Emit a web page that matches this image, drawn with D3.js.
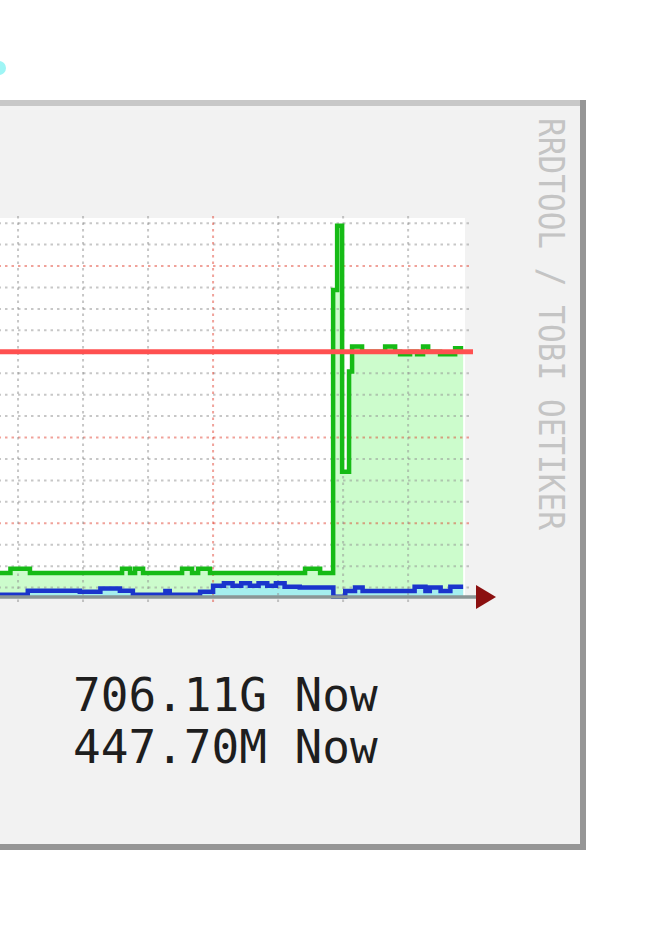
<!DOCTYPE html>
<meta charset="utf-8">
<style>
body { margin: 0; background: #fff; }
svg { display: block; }
text { font-family: "DejaVu Sans Mono", monospace; }
</style>
<svg width="656" height="932"></svg>
<script src="https://d3js.org/d3.v7.min.js"></script>
<script>

// times are hours relative to midnight (the red vertical line), values in G
var greenT = [-30, -18.7, -16.9, -8.4, -7.66, -7.2, -6.46, -2.86, -1.94, -1.38, -0.28, 8.49, 9.88,
              11.08, 11.45, 11.91, 12.55, 12.83, 13.75, 15.88, 16.8, 17.26, 18.18, 18.83, 19.38,
              19.85, 20.95, 22.34];
var greenV = [442, 447, 442, 447, 442, 447, 442, 447, 442, 447, 442, 447, 442,
              772, 847, 560, 677, 706, 700, 706, 700, 697, 700, 697, 706,
              700, 697, 704];

var blueT = [-30, -17.1, -12.3, -10.4, -8.6, -7.4, -4.4, -4.0, -1.2, 0, 1, 1.8, 2.6, 3.4, 4.2,
             5, 5.8, 6.6, 8, 11.1, 12.2, 13.1, 13.8, 18.6, 19.6, 20.0, 21.0, 21.9];
var blueV = [416.6, 421.3, 420, 424, 421.3, 416.6, 421, 416.6, 420, 427, 430, 427, 430, 427, 430,
             427, 430, 426, 425, 414.3, 421, 425, 421, 426, 421, 425, 421, 426];

var tEnd = 23.08;
var hrule = 700;
var legendLines = ["706.11G Now", "447.70M Now"];
var watermark = "RRDTOOL / TOBI OETIKER";

var minorX = 6, majorX = 24, minorY = 25, majorY = 100;

var svg = d3.select("svg");

// outer panel with 3d border
svg.append("circle").attr("cx", -1).attr("cy", 68).attr("r", 7).attr("fill", "#9ff5f5");
svg.append("rect").attr("x", -10).attr("y", 100).attr("width", 596).attr("height", 750).attr("fill", "#f2f2f2");
svg.append("rect").attr("x", -10).attr("y", 100).attr("width", 596).attr("height", 6).attr("fill", "#c8c8c8");
svg.append("rect").attr("x", 580).attr("y", 100).attr("width", 6).attr("height", 750).attr("fill", "#969696");
svg.append("rect").attr("x", -10).attr("y", 844).attr("width", 596).attr("height", 6).attr("fill", "#969696");

var x = d3.scaleLinear().domain([-30, 23.25]).range([-112, 465]),
    y = d3.scaleLinear().domain([414, 856]).range([597, 218]);

var g = svg.append("g");

g.append("rect")
    .attr("x", x.range()[0]).attr("y", y.range()[1])
    .attr("width", x.range()[1] - x.range()[0])
    .attr("height", y.range()[0] - y.range()[1])
    .attr("fill", "#fff");

function series(T, V) {
  var s = T.map(function(t, i) { return {t: t, v: V[i]}; });
  s.push({t: tEnd, v: V[V.length - 1]});
  return s;
}
var green = series(greenT, greenV),
    blue = series(blueT, blueV);

var area = d3.area()
    .curve(d3.curveStepAfter)
    .x(function(d) { return x(d.t); })
    .y0(y(y.domain()[0]))
    .y1(function(d) { return y(d.v); });

var line = d3.line()
    .curve(d3.curveStepAfter)
    .x(function(d) { return x(d.t); })
    .y(function(d) { return y(d.v); });

g.append("path").attr("d", area(green)).attr("fill", "#ccfccc");
g.append("path").attr("d", area(blue)).attr("fill", "#a4eeee");

// grid
var yTicks = d3.range(425, y.domain()[1], minorY),
    xTicks = d3.range(x.domain()[0], x.domain()[1], minorX);

g.selectAll(".hgrid")
  .data(yTicks)
  .enter().append("line")
    .attr("x1", x.range()[0]).attr("x2", x.range()[1] + 8)
    .attr("y1", function(d) { return y(d); })
    .attr("y2", function(d) { return y(d); })
    .attr("stroke", function(d) { return d % majorY == 0 ? "#de3020" : "#8f8f8f"; })
    .attr("stroke-opacity", function(d) { return d % majorY == 0 ? 0.45 : 0.5; })
    .attr("stroke-width", 2)
    .attr("stroke-dasharray", "2.5,4");

g.selectAll(".vgrid")
  .data(xTicks)
  .enter().append("line")
    .attr("x1", function(d) { return x(d); })
    .attr("x2", function(d) { return x(d); })
    .attr("y1", y.range()[1] - 2).attr("y2", y.range()[0] + 8)
    .attr("stroke", function(d) { return d % majorX == 0 ? "#de3020" : "#8f8f8f"; })
    .attr("stroke-opacity", function(d) { return d % majorX == 0 ? 0.45 : 0.5; })
    .attr("stroke-width", 2)
    .attr("stroke-dasharray", "2.5,4");

g.append("path").attr("d", line(green))
    .attr("fill", "none").attr("stroke", "#16bb16").attr("stroke-width", 4.5);
g.append("path").attr("d", line(blue))
    .attr("fill", "none").attr("stroke", "#1a35cc").attr("stroke-width", 4.5);

g.append("line")
    .attr("x1", x.range()[0]).attr("x2", x.range()[1] + 8)
    .attr("y1", y(hrule)).attr("y2", y(hrule))
    .attr("stroke", "#ff5050").attr("stroke-width", 5);

// x axis and arrow
g.append("line")
    .attr("x1", x.range()[0]).attr("x2", x.range()[1] + 12)
    .attr("y1", y.range()[0]).attr("y2", y.range()[0])
    .attr("stroke", "#8a9696").attr("stroke-width", 3.5);
var ax = x.range()[1] + 11, ay = y.range()[0];
g.append("path")
    .attr("d", "M" + ax + "," + (ay - 12) + "L" + (ax + 20) + "," + ay + "L" + ax + "," + (ay + 12) + "Z")
    .attr("fill", "#8b1010");

// legend
svg.selectAll(".legend")
  .data(legendLines)
  .enter().append("text")
    .attr("x", 73)
    .attr("y", function(d, i) { return 711 + i * 52; })
    .attr("fill", "#1e1e1e")
    .style("font-size", "46px")
    .text(function(d) { return d; });

svg.append("text")
    .attr("transform", "translate(539,118) rotate(90)")
    .attr("fill", "#c4c4c4")
    .attr("textLength", 412)
    .attr("lengthAdjust", "spacingAndGlyphs")
    .style("font-size", "35px")
    .text(watermark);

</script>
